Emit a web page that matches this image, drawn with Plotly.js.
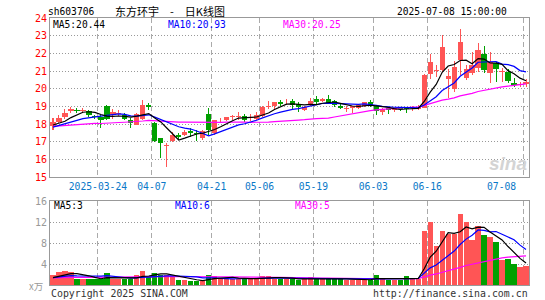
<!DOCTYPE html>
<html><head><meta charset="utf-8">
<script src="https://cdn.plot.ly/plotly-3.0.1.min.js"></script>
<style>html,body{margin:0;padding:0;background:#fff;}#chart{width:545px;height:300px;}</style>
</head><body><div id="chart"></div>
<script>
// ---- data ----
const dates = ['2025-03-12','2025-03-13','2025-03-14','2025-03-17','2025-03-18','2025-03-19','2025-03-20','2025-03-21','2025-03-24','2025-03-25',
'2025-03-26','2025-03-27','2025-03-28','2025-03-31','2025-04-01','2025-04-02','2025-04-03','2025-04-07','2025-04-08','2025-04-09',
'2025-04-10','2025-04-11','2025-04-14','2025-04-15','2025-04-16','2025-04-17','2025-04-18','2025-04-21','2025-04-22','2025-04-23',
'2025-04-24','2025-04-25','2025-04-28','2025-04-29','2025-04-30','2025-05-06','2025-05-07','2025-05-08','2025-05-09','2025-05-12',
'2025-05-13','2025-05-14','2025-05-15','2025-05-16','2025-05-19','2025-05-20','2025-05-21','2025-05-22','2025-05-23','2025-05-26',
'2025-05-27','2025-05-28','2025-05-29','2025-05-30','2025-06-03','2025-06-04','2025-06-05','2025-06-06','2025-06-09','2025-06-10',
'2025-06-11','2025-06-12','2025-06-13','2025-06-16','2025-06-17','2025-06-18','2025-06-19','2025-06-20','2025-06-23','2025-06-24',
'2025-06-25','2025-06-26','2025-06-27','2025-06-30','2025-07-01','2025-07-02','2025-07-03','2025-07-04','2025-07-07','2025-07-08'];
const open  = [17.90,18.13,18.38,18.74,18.82,18.76,18.74,18.45,18.41,19.02,
18.50,18.58,18.50,18.25,17.95,18.28,19.08,18.07,17.22,16.78,
17.06,17.40,17.35,17.60,17.50,17.18,18.56,17.47,18.20,18.25,
18.38,18.40,18.47,18.36,18.30,18.47,18.98,19.00,19.26,19.28,
19.30,19.15,18.82,19.08,19.42,19.28,19.42,19.30,19.04,18.86,
18.92,18.92,19.00,19.22,19.04,18.66,18.90,18.82,18.87,18.94,
18.90,18.84,18.92,20.85,21.00,21.05,20.55,20.00,21.64,20.60,
20.90,21.15,21.96,20.87,21.43,20.94,20.96,20.30,20.22,20.26];
const high  = [18.32,18.51,18.84,18.95,18.90,18.90,18.78,18.50,18.50,19.05,
18.85,18.80,18.60,18.35,18.62,19.38,19.20,18.10,17.22,16.95,
17.55,17.50,17.65,17.77,17.65,17.65,18.92,18.25,18.36,18.40,
18.53,18.70,18.58,18.58,18.66,19.00,19.30,19.26,19.38,19.40,
19.42,19.24,19.04,19.45,19.57,19.50,19.64,19.34,19.20,19.00,
19.04,19.15,19.26,19.34,19.08,18.90,18.94,18.92,18.96,18.98,
19.02,19.05,20.85,21.98,21.36,23.06,21.12,21.55,23.40,21.36,
22.10,22.60,22.41,22.07,21.50,21.15,21.10,20.60,20.40,20.55];
const low   = [17.66,18.05,18.30,18.60,18.60,18.60,18.40,18.30,17.80,18.20,
18.30,18.45,18.20,17.75,17.92,18.25,18.80,17.00,16.09,15.58,
17.00,17.15,17.30,17.25,17.05,17.10,17.40,17.40,18.06,18.15,
18.25,18.20,18.10,18.17,18.25,18.40,18.85,18.85,19.00,19.10,
18.85,18.70,18.75,19.04,19.08,19.24,19.13,18.96,18.85,18.66,
18.62,18.85,18.96,18.96,18.50,18.53,18.58,18.70,18.73,18.60,
18.75,18.80,18.90,20.55,20.64,20.95,19.50,19.80,20.75,20.47,
20.75,20.95,20.90,20.30,20.40,20.40,20.30,20.10,20.10,20.10];
const close = [18.12,18.36,18.60,18.83,18.74,18.80,18.50,18.40,18.24,18.30,
18.70,18.62,18.30,18.05,18.56,19.08,18.95,17.06,16.95,16.82,
17.40,17.25,17.57,17.50,17.45,17.62,17.68,18.20,18.25,18.38,
18.42,18.44,18.22,18.40,18.50,18.96,19.02,19.22,19.12,19.30,
19.05,18.96,18.96,19.30,19.24,19.42,19.20,19.06,18.93,18.90,
19.00,19.10,19.22,19.08,18.72,18.85,18.82,18.86,18.85,18.86,
18.92,18.94,20.80,21.50,21.04,22.36,20.72,21.22,22.63,21.14,
21.34,22.20,21.06,21.53,21.10,20.98,20.43,20.20,20.26,20.36];
const volume = [1.9,2.5,2.7,2.5,1.2,1.2,1.2,1.2,1.2,2.2,
1.2,1.2,1.2,1.2,2.0,2.7,1.5,2.35,2.0,2.0,
1.5,0.9,1.0,0.8,0.8,0.75,2.0,1.8,1.2,1.2,
1.2,1.2,1.2,1.2,1.2,1.7,1.7,1.2,1.2,1.2,
1.2,1.0,1.2,1.6,1.2,1.2,1.2,1.2,1.2,1.0,
1.0,1.0,1.0,1.0,2.0,1.2,1.0,1.0,1.0,1.8,
1.2,1.2,10.35,12.06,7.49,10.35,9.71,9.71,13.59,12.06,
8.63,11.3,9.59,9.14,8.19,4.83,5.02,4.06,3.37,3.68];
// closes / volumes of the 29 sessions before the window (estimated, only used to start the moving averages)
const prevClose = [17.6,17.7,17.9,18.1,18.0,17.9,18.2,18.3,18.1,17.9,18.0,17.8,17.7,17.9,18.0,17.8,17.7,17.9,17.8,17.6,17.5,17.6,17.7,17.9,17.8,17.9,18.0,17.8,17.9];
const prevVolume = [1.2,1.5,1.3,1.1,1.4,1.6,1.2,1.3,1.5,1.4,1.2,1.3,1.6,1.4,1.2,1.1,1.3,1.5,1.4,1.2,1.3,1.4,1.2,1.6,1.5,1.3,1.4,1.2,1.3];
const tickDates  = ['2025-03-24','2025-04-07','2025-04-21','2025-05-06','2025-05-19','2025-06-03','2025-06-16','2025-07-08'];
const tickLabels = ['2025-03-24','04-07','04-21','05-06','05-19','06-03','06-16','07-08'];
const priceTicks = [15,16,17,18,19,20,21,22,23,24];
const volTicks = [4,8,12,16];
const priceMaLabels = ['MA5:20.44','MA10:20.93','MA30:20.25'];
const volMaLabels = ['MA5:3','MA10:6','MA30:5'];
const stockCode = 'sh603706';
const chartTitle = '东方环宇\u3000-\u3000日K线图';
const timeStamp = '2025-07-08 15:00:00';

// ---- derived ----
const UP = '#ff5555', DOWN = '#00a000';
const idx = dates.map((d,i)=>i);
const col = close.map((c,i)=> c >= open[i] ? UP : DOWN);
function ma(prev, cur, n){
  const full = prev.concat(cur), off = prev.length;
  return cur.map((v,i)=>{ let s=0; for(let j=off+i-n+1;j<=off+i;j++) s+=full[j]; return s/n; });
}
const bodyBase = open.map((o,i)=>Math.min(o,close[i]));
const bodyH = open.map((o,i)=>Math.max(Math.abs(close[i]-o),0.05));
const tickPos = tickDates.map(d=>dates.indexOf(d)-0.5);
const MONO = 'DejaVu Sans Mono';

const traces = [
 {type:'bar', x:idx, base:low, y:high.map((h,i)=>h-low[i]), width:0.17, marker:{color:col,line:{width:0}}, xaxis:'x', yaxis:'y', hoverinfo:'skip'},
 {type:'bar', x:idx, base:bodyBase, y:bodyH, width:0.88, marker:{color:col,line:{width:0}}, xaxis:'x', yaxis:'y', hoverinfo:'skip'},
 {type:'scatter', mode:'lines', x:idx, y:ma(prevClose,close,30), line:{color:'#ff00ff',width:1.2}, xaxis:'x', yaxis:'y'},
 {type:'scatter', mode:'lines', x:idx, y:ma(prevClose,close,10), line:{color:'#0000ff',width:1.2}, xaxis:'x', yaxis:'y'},
 {type:'scatter', mode:'lines', x:idx, y:ma(prevClose,close,5), line:{color:'#000000',width:1.2}, xaxis:'x', yaxis:'y'},
 {type:'bar', x:idx, y:volume, width:0.88, marker:{color:col,line:{width:0}}, xaxis:'x2', yaxis:'y2', hoverinfo:'skip'},
 {type:'scatter', mode:'lines', x:idx, y:ma(prevVolume,volume,30), line:{color:'#ff00ff',width:1.2}, xaxis:'x2', yaxis:'y2'},
 {type:'scatter', mode:'lines', x:idx, y:ma(prevVolume,volume,10), line:{color:'#0000ff',width:1.2}, xaxis:'x2', yaxis:'y2'},
 {type:'scatter', mode:'lines', x:idx, y:ma(prevVolume,volume,5), line:{color:'#000000',width:1.2}, xaxis:'x2', yaxis:'y2'}
];

const L=50, R=529, T=18, B=285;
const px = v => (v-L)/(R-L), py = v => (B-v)/(B-T);
function ann(text,x,y,anchor,color,size,family,extra){
  return Object.assign({text:text, x:px(x), y:py(y), xref:'paper', yref:'paper', xanchor:anchor, yanchor:'middle',
    showarrow:false, borderpad:0, font:{family:family||MONO, size:size||9.5, color:color||'#000'}}, extra||{});
}
const tt = tickLabels.slice(); tt[tt.length-1] = '';
const annotations = [
  ann(stockCode,47,12,'left','#000',9.6),
  ann(chartTitle,114,10.5,'left','#000',11,'Noto Sans CJK SC'),
  ann(timeStamp,508,12,'right','#000',9.6),
  ann(priceMaLabels[0],52,24,'left','#000',9.6),
  ann(priceMaLabels[1],167,24,'left','#0000ff',9.6),
  ann(priceMaLabels[2],282,24,'left','#ff00ff',9.6),
  ann(volMaLabels[0],53,206,'left','#000',9.6),
  ann(volMaLabels[1],174,206,'left','#0000ff',9.6),
  ann(volMaLabels[2],294,206,'left','#ff00ff',9.6),
  ann('Copyright 2025 SINA.COM',50,293,'left','#333',9.9),
  ann('http://finance.sina.com.cn',529,293,'right','#333',9.9),
  ann('x万',44,286,'right','#999',9.5,'Noto Sans CJK SC'),
  ann(tickLabels[tickLabels.length-1],517,186,'right','#0a78c8',9.7),
  ann('<b><i>sina</i></b>',528,163,'right','#d4d4d4',19,'Liberation Sans')
];

const gridX = {showgrid:true, gridcolor:'#aaaaaa', griddash:'5px,3px', gridwidth:1};
const layout = {
  width:545, height:300, margin:{l:L, r:545-R, t:T, b:300-B}, paper_bgcolor:'#fff', plot_bgcolor:'#fff',
  showlegend:false, barmode:'overlay', bargap:0, hovermode:false,
  xaxis:Object.assign({domain:[0,1], anchor:'y', range:[-0.5,79.5], tickmode:'array', tickvals:tickPos, ticktext:tt,
     tickfont:{family:MONO,size:9.7,color:'#0a78c8'}, ticks:'', showline:true, mirror:true, linecolor:'#999', linewidth:1, zeroline:false, fixedrange:true}, gridX),
  yaxis:{domain:[py(177),1], anchor:'x', range:[15,24], tickmode:'array', tickvals:priceTicks, ticks:'',
     tickfont:{family:MONO,size:10,color:'#ff0000'}, showgrid:true, gridcolor:'#999', griddash:'1px,2px', showline:true, mirror:true, linecolor:'#999', zeroline:false, fixedrange:true},
  xaxis2:Object.assign({domain:[0,1], anchor:'y2', range:[-0.5,79.5], tickmode:'array', tickvals:tickPos, showticklabels:false, ticks:'',
     showline:true, mirror:true, linecolor:'#999', zeroline:false, fixedrange:true}, gridX),
  yaxis2:{domain:[0,py(201.3)], anchor:'x2', range:[0,16], tickmode:'array', tickvals:volTicks, ticks:'',
     tickfont:{family:MONO,size:10,color:'#999'}, showgrid:true, gridcolor:'#999', griddash:'1px,2px', showline:true, mirror:true, linecolor:'#999', zeroline:false, fixedrange:true},
  annotations:annotations
};
Plotly.newPlot('chart', traces, layout, {staticPlot:true, displayModeBar:false});
</script></body></html>
